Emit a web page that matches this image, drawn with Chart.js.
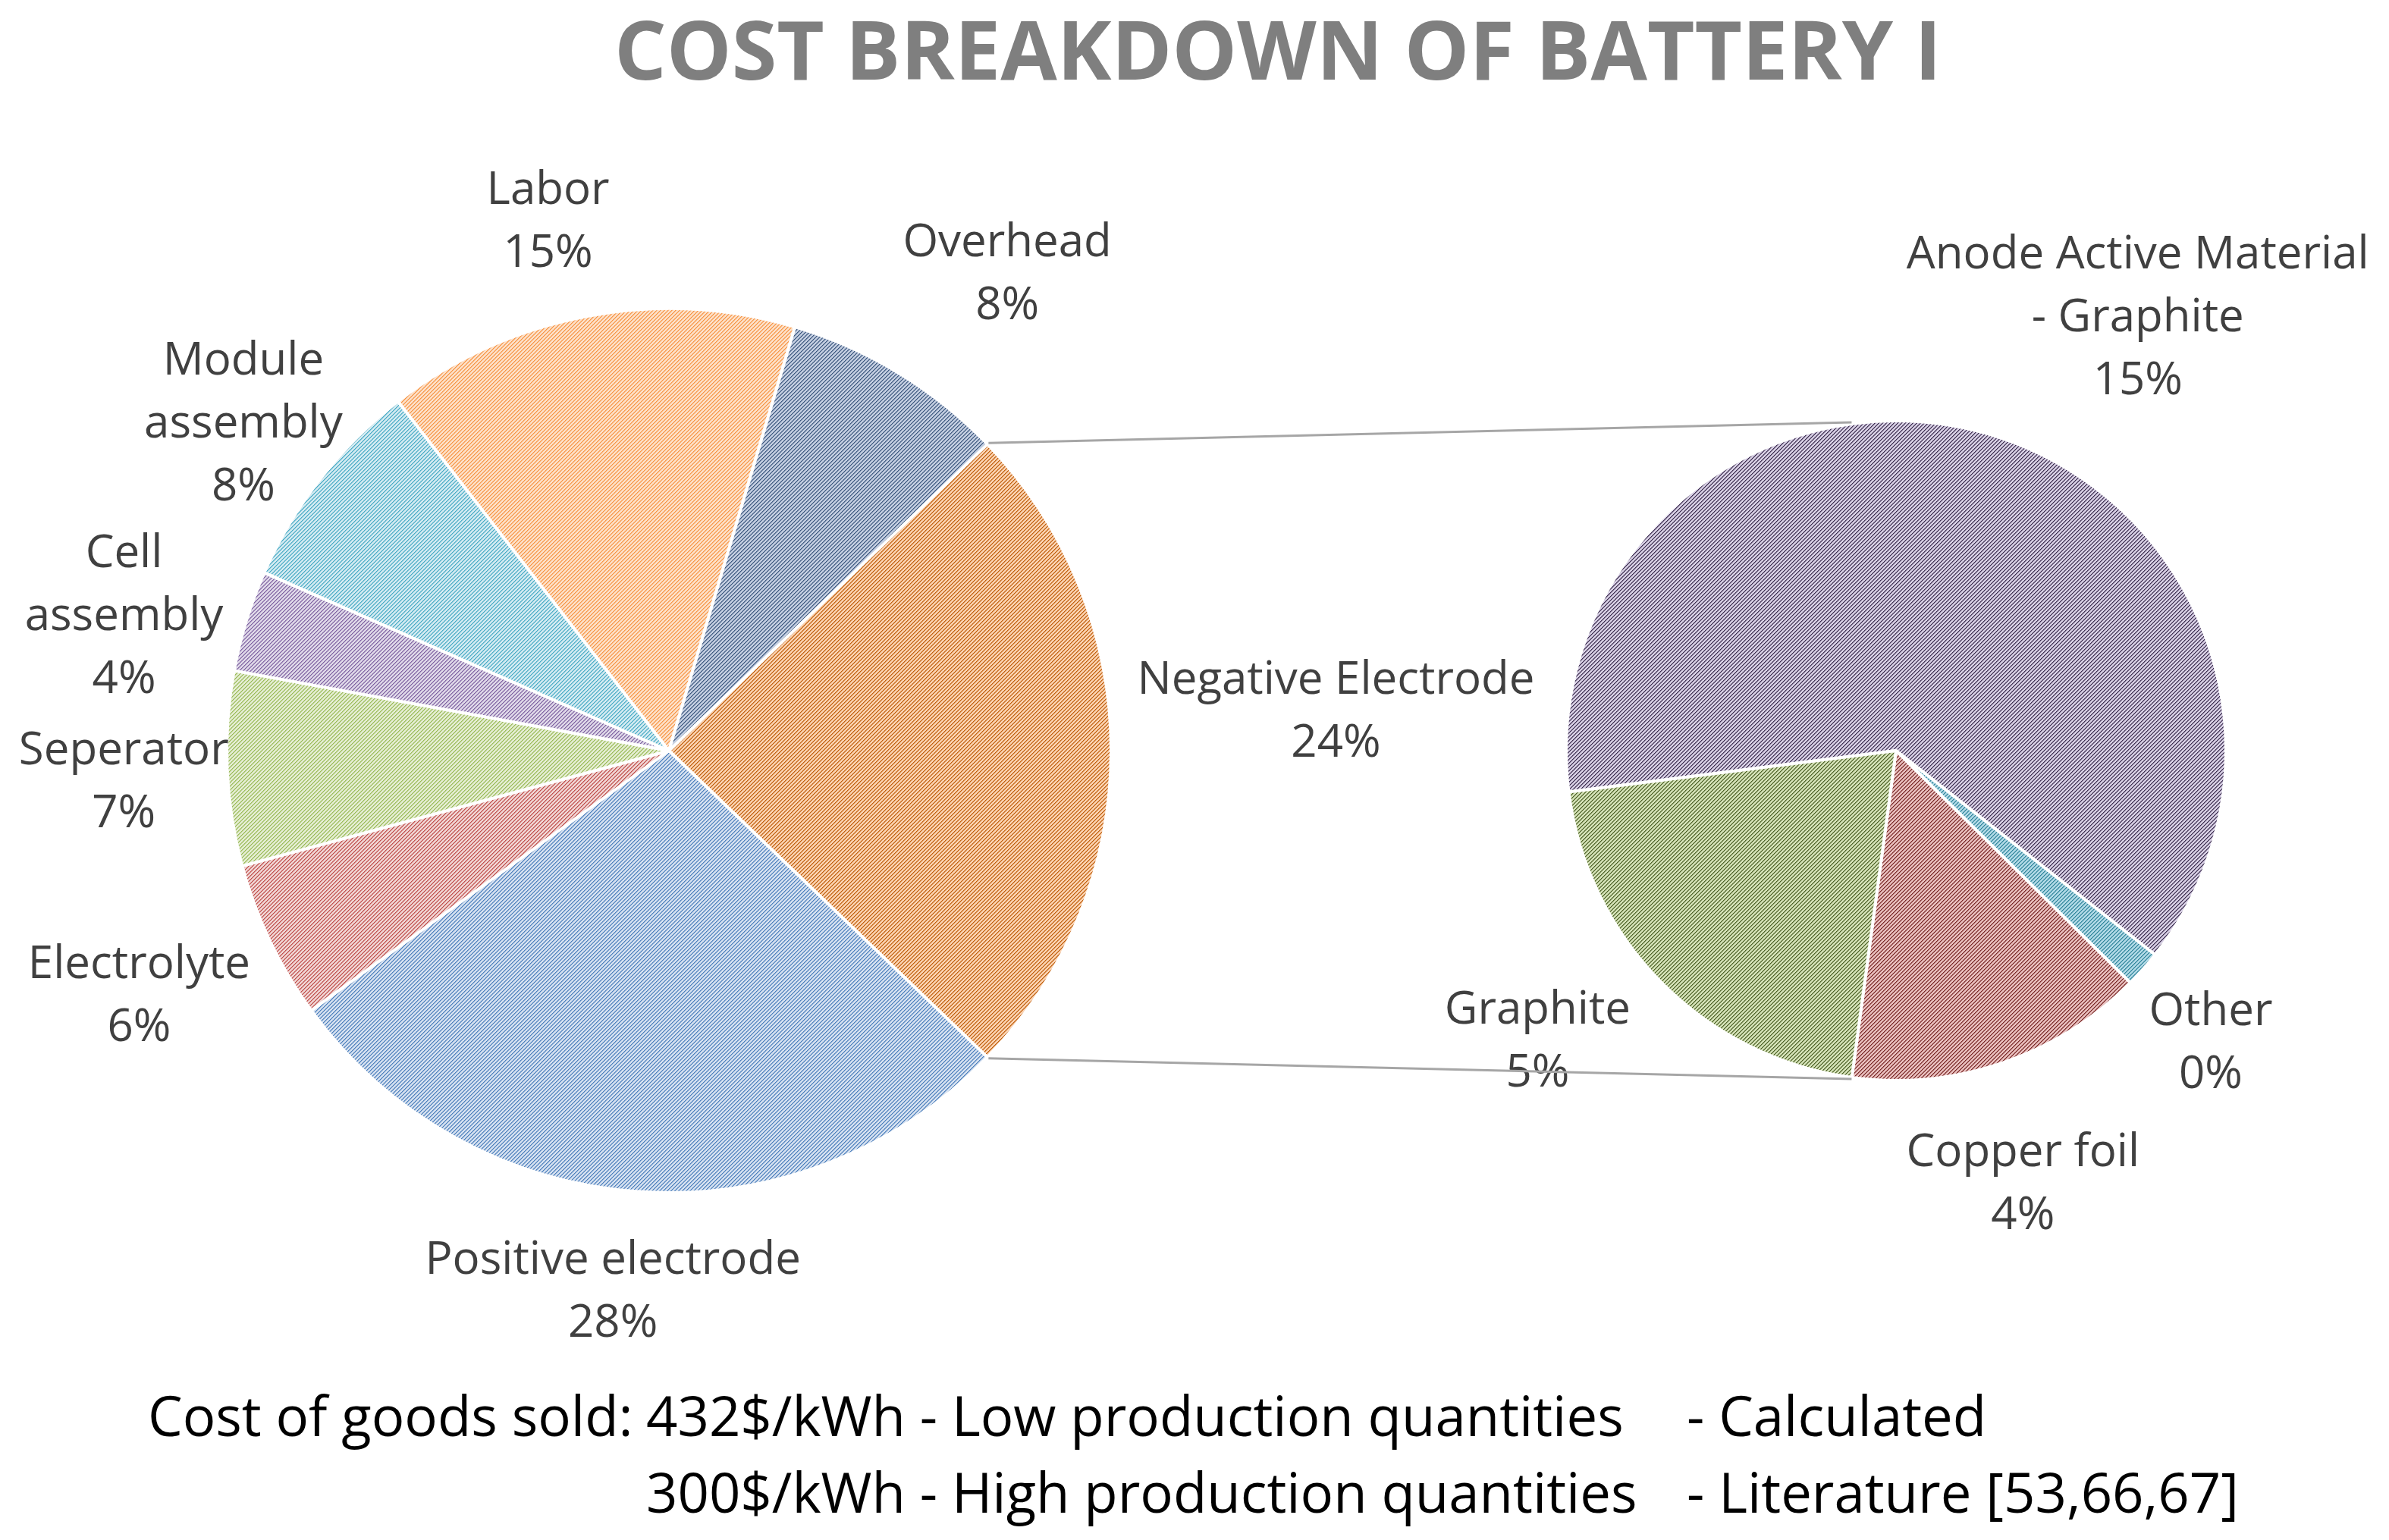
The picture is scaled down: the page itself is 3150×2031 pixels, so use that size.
<!DOCTYPE html>
<html>
<head>
<meta charset="utf-8">
<script src="https://cdn.jsdelivr.net/npm/chart.js@4.4.0/dist/chart.umd.min.js"></script>
<style>
html,body{margin:0;padding:0;background:#ffffff;}
#wrap{position:relative;width:3150px;height:2031px;overflow:hidden;background:#fff;}
#wrap canvas{position:absolute;left:0;top:0;}
.txt{position:absolute;white-space:pre;font-family:"Open Sans",sans-serif;line-height:1;}
#title{left:1685px;top:10px;transform:translateX(-50%);font-size:108px;font-weight:700;color:#7f7f7f;}
.foot{font-size:72.5px;color:#000;}
</style>
</head>
<body>
<div id="wrap">
  <canvas id="mainPie" width="3150" height="2031"></canvas>
  <canvas id="subPie" width="3150" height="2031"></canvas>
  <div id="title" class="txt">COST BREAKDOWN OF BATTERY I</div>
  <div class="txt foot" style="left:195px;top:1830px;">Cost of goods sold:</div>
  <div class="txt foot" style="left:852px;top:1830px;">432$/kWh - Low production quantities</div>
  <div class="txt foot" style="left:2224px;top:1830px;">- Calculated</div>
  <div class="txt foot" style="left:852px;top:1931px;">300$/kWh - High production quantities</div>
  <div class="txt foot" style="left:2224px;top:1931px;">- Literature [53,66,67]</div>
</div>
<script>
// ---------- DATA ----------
const mainCategories = [["Negative Electrode"], ["Positive electrode"], ["Electrolyte"], ["Seperator"], ["Cell", "assembly"], ["Module", "assembly"], ["Labor"], ["Overhead"]];
const mainValues = [24.4, 27.8, 5.8, 7.1, 3.7, 7.9, 15.1, 8.2];
const subCategories = [["Anode Active Material", "- Graphite"], ["Other"], ["Copper foil"], ["Graphite"]];
const subValues = [15.28, 0.44, 3.59, 5.09];

// ---------- STYLE / LAYOUT ----------
const mainLineColors = ["#c0600f", "#4f81bd", "#c0504d", "#9bbb59", "#8064a2", "#4bacc6", "#f79646", "#3f5a80"];
const mainBgColors   = ["#fbd2b0", "#d4e0f0", "#f0d4d3", "#e4edd2", "#ded7e8", "#d2eaf1", "#fde0c8", "#c2cde0"];
const subLineColors  = ["#3f3152", "#31859b", "#7a2a28", "#4f6228"];
const subBgColors    = ["#d6cee3", "#b0d9e6", "#e8bebd", "#d3e1b6"];
const mainLabelDist  = [1.511, 1.232, 1.321, 1.235, 1.269, 1.213, 1.225, 1.321];
const mainLabelShift = [-3.3, 1.94, 0.66, -1.06, -3.3, -0.48, -2.28, 4.08];
const subLabelDist   = [1.501, 1.303, 1.372, 1.40];
const subLabelShift  = [13.7, 1.45, 2.5, 5.65];
const total = mainValues.reduce((a, b) => a + b, 0);

function hatch(line, bg) {
  const n = 5;
  const c = document.createElement('canvas');
  c.width = n; c.height = n;
  const x = c.getContext('2d');
  x.fillStyle = bg; x.fillRect(0, 0, n, n);
  x.fillStyle = line;
  for (let i = 0; i < n; i++) {
    x.globalAlpha = 1;
    x.fillRect(i, (n - 1 - i + n) % n, 1, 1);
    x.globalAlpha = 0.6;
    x.fillRect(i, (n - i) % n, 1, 1);
  }
  return x.createPattern(c, 'repeat');
}

const sliceLabels = {
  id: 'sliceLabels',
  afterDraw(chart, args, opts) {
    const ctx = chart.ctx;
    const meta = chart.getDatasetMeta(0);
    const vals = chart.data.datasets[0].data;
    ctx.save();
    ctx.font = '60px "Open Sans", sans-serif';
    ctx.fillStyle = '#404040';
    ctx.textAlign = 'center';
    ctx.textBaseline = 'middle';
    meta.data.forEach((arc, i) => {
      const mid = (arc.startAngle + arc.endAngle) / 2 + opts.shift[i] * Math.PI / 180;
      const d = arc.outerRadius * opts.dist[i];
      const cx = arc.x + Math.cos(mid) * d;
      const cy = arc.y + Math.sin(mid) * d;
      const lines = chart.data.labels[i].concat([Math.round(vals[i] / total * 100) + '%']);
      const n = lines.length;
      lines.forEach((t, k) => ctx.fillText(t, cx, cy + (k - (n - 1) / 2) * 83));
    });
    ctx.restore();
  }
};

let mainChart = null;
const connectors = {
  id: 'connectors',
  afterDraw(chart) {
    if (!mainChart) return;
    const m = mainChart.getDatasetMeta(0).data[0];
    const s = chart.getDatasetMeta(0).data;
    const sub = s[s.length - 1];
    const R = sub.outerRadius + 2;
    const a = sub.startAngle;
    const ctx = chart.ctx;
    ctx.save();
    ctx.strokeStyle = '#a6a6a6';
    ctx.lineWidth = 3;
    const pts = [
      [m.x + Math.cos(m.startAngle) * (m.outerRadius + 2), m.y + Math.sin(m.startAngle) * (m.outerRadius + 2), sub.x + Math.cos(-a) * R, sub.y + Math.sin(-a) * R],
      [m.x + Math.cos(m.endAngle) * (m.outerRadius + 2), m.y + Math.sin(m.endAngle) * (m.outerRadius + 2), sub.x + Math.cos(a) * R, sub.y + Math.sin(a) * R]
    ];
    pts.forEach(p => { ctx.beginPath(); ctx.moveTo(p[0], p[1]); ctx.lineTo(p[2], p[3]); ctx.stroke(); });
    ctx.restore();
  }
};

function build() {
  const mainRot = 90 - (mainValues[0] / total * 360) / 2;
  mainChart = new Chart(document.getElementById('mainPie'), {
    type: 'pie',
    data: {
      labels: mainCategories,
      datasets: [{
        data: mainValues,
        backgroundColor: mainLineColors.map((c, i) => hatch(c, mainBgColors[i])),
        borderColor: '#ffffff',
        borderWidth: 4,
        hoverBorderWidth: 4,
        hoverOffset: 0
      }]
    },
    options: {
      responsive: false,
      devicePixelRatio: 1,
      animation: false,
      rotation: mainRot,
      layout: { padding: { left: 297, top: 405, right: 1683, bottom: 456 } },
      events: [],
      plugins: {
        legend: { display: false },
        tooltip: { enabled: false },
        sliceLabels: { dist: mainLabelDist, shift: mainLabelShift }
      }
    },
    plugins: [sliceLabels]
  });

  const subRot = 262.8;
  new Chart(document.getElementById('subPie'), {
    type: 'pie',
    data: {
      labels: subCategories,
      datasets: [{
        data: subValues,
        backgroundColor: subLineColors.map((c, i) => hatch(c, subBgColors[i])),
        borderColor: '#ffffff',
        borderWidth: 4,
        hoverBorderWidth: 4,
        hoverOffset: 0
      }]
    },
    options: {
      responsive: false,
      devicePixelRatio: 1,
      animation: false,
      rotation: subRot,
      layout: { padding: { left: 2063, top: 553, right: 213, bottom: 604 } },
      events: [],
      plugins: {
        legend: { display: false },
        tooltip: { enabled: false },
        sliceLabels: { dist: subLabelDist, shift: subLabelShift }
      }
    },
    plugins: [sliceLabels, connectors]
  });
}

if (document.fonts && document.fonts.load) {
  Promise.all([document.fonts.load('60px "Open Sans"'), document.fonts.load('700 108px "Open Sans"')]).then(build, build);
} else { build(); }
</script>
</body>
</html>
